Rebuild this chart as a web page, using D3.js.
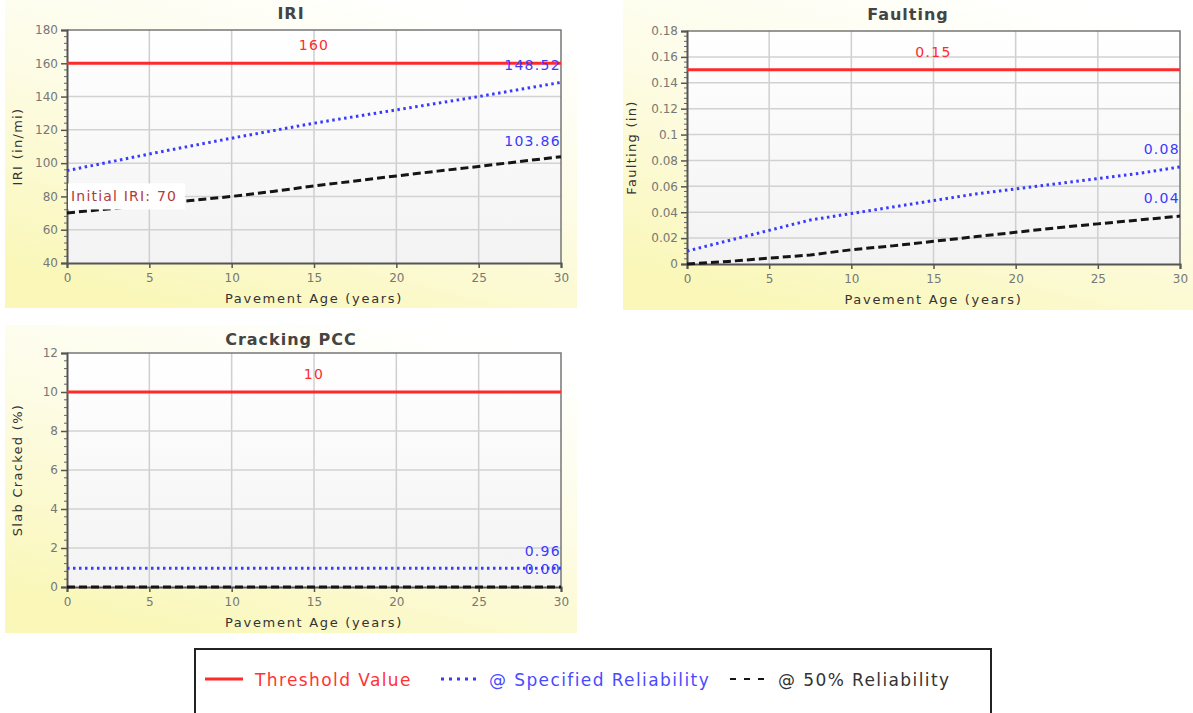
<!DOCTYPE html>
<html>
<head>
<meta charset="utf-8">
<script src="https://cdn.jsdelivr.net/npm/d3@7"></script>
<style>
  body { margin: 0; background: #fff; }
  svg { display: block; font-family: "DejaVu Sans", Verdana, sans-serif; }
</style>
</head>
<body>
<svg id="chart" width="1193" height="713"></svg>
<script>
// ---- data ----
const years = [0, 2.5, 5, 7.5, 10, 12.5, 15, 17.5, 20, 22.5, 25, 27.5, 30];
const xTicks = [0, 5, 10, 15, 20, 25, 30];

const iriThreshold = 160;
const iriSpecified = [95.5, 100.5, 105.5, 110.3, 115, 119.5, 124, 128, 132, 136, 140, 144.3, 148.52];
const iri50 = [70, 72.5, 75, 77.5, 80, 83, 86.3, 89.3, 92.3, 95.2, 98, 101, 103.86];
const iriTicks = [40, 60, 80, 100, 120, 140, 160, 180];
const iriEndLabels = ["148.52", "103.86"];

const faultThreshold = 0.15;
const faultSpecified = [0.010, 0.018, 0.026, 0.034, 0.039, 0.044, 0.049, 0.054, 0.058, 0.062, 0.066, 0.070, 0.075];
const fault50 = [0, 0.002, 0.0045, 0.007, 0.011, 0.014, 0.0175, 0.021, 0.0245, 0.028, 0.031, 0.034, 0.037];
const faultTicks = [0, 0.02, 0.04, 0.06, 0.08, 0.1, 0.12, 0.14, 0.16, 0.18];
const faultEndLabels = ["0.08", "0.04"];

const crackThreshold = 10;
const crackSpecified = [0.96, 0.96, 0.96, 0.96, 0.96, 0.96, 0.96, 0.96, 0.96, 0.96, 0.96, 0.96, 0.96];
const crack50 = [0, 0, 0, 0, 0, 0, 0, 0, 0, 0, 0, 0, 0];
const crackTicks = [0, 2, 4, 6, 8, 10, 12];
const crackEndLabels = ["0.96", "0.00"];

const legendItems = ["Threshold Value", "@ Specified Reliability", "@ 50% Reliability"];

// ---- styles ----
const RED = "#ff2a2a", BLUE = "#3a3aff", BLACK = "#151515";

let svg = d3.select("#chart");
let defs = svg.append("defs");

let panelGrad = defs.append("linearGradient").attr("id", "panelGrad")
  .attr("x1", "0.75").attr("y1", "0").attr("x2", "0.25").attr("y2", "1");
panelGrad.append("stop").attr("offset", "0%").attr("stop-color", "#ffffff");
panelGrad.append("stop").attr("offset", "45%").attr("stop-color", "#fdfce6");
panelGrad.append("stop").attr("offset", "100%").attr("stop-color", "#faf7b8");

let plotGrad = defs.append("linearGradient").attr("id", "plotGrad")
  .attr("x1", "0").attr("y1", "0").attr("x2", "0").attr("y2", "1");
plotGrad.append("stop").attr("offset", "0%").attr("stop-color", "#ffffff");
plotGrad.append("stop").attr("offset", "100%").attr("stop-color", "#f3f3f3");

function drawPanel(cfg) {
  let p = svg.append("g");

  p.append("rect")
    .attr("x", cfg.panel[0]).attr("y", cfg.panel[1])
    .attr("width", cfg.panel[2]).attr("height", cfg.panel[3])
    .attr("fill", "url(#panelGrad)");

  let [left, top, right, bottom] = cfg.plot;
  let x = d3.scaleLinear().domain([0, 30]).range([left, right]);
  let y = d3.scaleLinear().domain(cfg.yDomain).range([bottom, top]);

  p.append("rect")
    .attr("x", left).attr("y", top)
    .attr("width", right - left).attr("height", bottom - top)
    .attr("fill", "url(#plotGrad)");

  // grid
  p.append("g").selectAll("line.v").data(xTicks.slice(1, -1)).join("line")
    .attr("x1", d => x(d)).attr("x2", d => x(d))
    .attr("y1", top).attr("y2", bottom)
    .attr("stroke", "#cfcfcf").attr("stroke-width", 1.5);
  p.append("g").selectAll("line.h").data(cfg.yTicks.slice(1, -1)).join("line")
    .attr("x1", left).attr("x2", right)
    .attr("y1", d => y(d)).attr("y2", d => y(d))
    .attr("stroke", "#d2d2d2").attr("stroke-width", 1.5);

  // plot frame (top/right)
  p.append("path")
    .attr("d", `M${left},${top}H${right}V${bottom}`)
    .attr("fill", "none").attr("stroke", "#777").attr("stroke-width", 1.5);

  // minor y ticks
  let step = cfg.yTicks[1] - cfg.yTicks[0];
  let minor = [];
  cfg.yTicks.slice(0, -1).forEach(t => {
    for (let k = 1; k < 5; k++) minor.push(t + step * k / 5);
  });
  p.append("g").selectAll("line").data(minor).join("line")
    .attr("x1", left - 3).attr("x2", left)
    .attr("y1", d => y(d)).attr("y2", d => y(d))
    .attr("stroke", "#666").attr("stroke-width", 1);

  // axes
  let fmt = d3.format("~g");
  let ya = p.append("g").attr("transform", `translate(${left},0)`)
    .call(d3.axisLeft(y).tickValues(cfg.yTicks).tickSize(6).tickPadding(3).tickFormat(fmt));
  let xa = p.append("g").attr("transform", `translate(0,${bottom})`)
    .call(d3.axisBottom(x).tickValues(xTicks).tickSize(5).tickPadding(5));
  [ya, xa].forEach(a => {
    a.select(".domain").attr("stroke", "#555").attr("stroke-width", 2);
    a.selectAll(".tick line").attr("stroke", "#555").attr("stroke-width", 1.5);
    a.selectAll(".tick text").attr("fill", "#777").attr("font-size", 12)
      .attr("font-family", "DejaVu Sans, sans-serif");
  });

  // titles
  p.append("text")
    .attr("x", cfg.panel[0] + cfg.panel[2] / 2).attr("y", cfg.titleY)
    .attr("text-anchor", "middle").attr("font-size", 16).attr("font-weight", "bold")
    .attr("letter-spacing", 1).attr("fill", "#444").text(cfg.title);
  p.append("text")
    .attr("x", (left + right) / 2).attr("y", bottom + 40)
    .attr("text-anchor", "middle").attr("font-size", 13).attr("letter-spacing", 1.7)
    .attr("fill", "#333").text("Pavement Age (years)");
  p.append("text")
    .attr("transform", `translate(${cfg.yLabelX},${(top + bottom) / 2}) rotate(-90)`)
    .attr("text-anchor", "middle").attr("font-size", 13).attr("letter-spacing", 1.3)
    .attr("fill", "#333").text(cfg.yLabel);

  // series
  let line = d3.line().x((d, i) => x(years[i])).y(d => y(d));

  p.append("line")
    .attr("x1", x(0)).attr("x2", x(30))
    .attr("y1", y(cfg.threshold)).attr("y2", y(cfg.threshold))
    .attr("stroke", RED).attr("stroke-width", 3);

  p.append("path").datum(cfg.s50).attr("d", line)
    .attr("fill", "none").attr("stroke", BLACK).attr("stroke-width", 3)
    .attr("stroke-dasharray", "8,4");

  p.append("path").datum(cfg.spec).attr("d", line)
    .attr("fill", "none").attr("stroke", BLUE).attr("stroke-width", 3)
    .attr("stroke-dasharray", "2.5,3.5");

  // value labels
  p.append("text")
    .attr("x", (left + right) / 2).attr("y", y(cfg.threshold) - 13)
    .attr("text-anchor", "middle").attr("font-size", 14).attr("letter-spacing", 1.3)
    .attr("fill", RED).text(fmt(cfg.threshold));
  p.append("text")
    .attr("x", right).attr("y", y(cfg.spec[cfg.spec.length - 1]) - cfg.labelOffset[0])
    .attr("text-anchor", "end").attr("font-size", 14).attr("letter-spacing", 1.3)
    .attr("fill", BLUE).text(cfg.endLabels[0]);
  p.append("text")
    .attr("x", right).attr("y", y(cfg.s50[cfg.s50.length - 1]) - cfg.labelOffset[1])
    .attr("text-anchor", "end").attr("font-size", 14).attr("letter-spacing", 1.3)
    .attr("fill", BLUE).text(cfg.endLabels[1]);

  return { x: x, y: y, g: p };
}

// IRI
let iri = drawPanel({
  title: "IRI", titleY: 19, yLabel: "IRI (in/mi)", yLabelX: 22,
  panel: [5, 0, 572, 308], plot: [67, 30, 561, 263],
  yDomain: [40, 180], yTicks: iriTicks,
  threshold: iriThreshold, spec: iriSpecified, s50: iri50,
  endLabels: iriEndLabels, labelOffset: [12, 11]
});

// initial IRI note
let noteX = iri.x(0) + 1, noteY = iri.y(80);
iri.g.append("rect")
  .attr("x", noteX).attr("y", noteY - 13)
  .attr("width", 117).attr("height", 26)
  .attr("fill", "#fff");
iri.g.append("text")
  .attr("x", noteX + 3).attr("y", noteY + 5)
  .attr("font-size", 14).attr("letter-spacing", 1.2).attr("fill", "#b23a3a")
  .text("Initial IRI: " + iri50[0]);

// Faulting
drawPanel({
  title: "Faulting", titleY: 20, yLabel: "Faulting (in)", yLabelX: 636,
  panel: [623, 0, 570, 310], plot: [687, 31, 1180, 264],
  yDomain: [0, 0.18], yTicks: faultTicks,
  threshold: faultThreshold, spec: faultSpecified, s50: fault50,
  endLabels: faultEndLabels, labelOffset: [13, 13]
});

// Cracking PCC
drawPanel({
  title: "Cracking PCC", titleY: 345, yLabel: "Slab Cracked (%)", yLabelX: 22,
  panel: [5, 325, 572, 308], plot: [67, 353, 561, 587],
  yDomain: [0, 12], yTicks: crackTicks,
  threshold: crackThreshold, spec: crackSpecified, s50: crack50,
  endLabels: crackEndLabels, labelOffset: [12, 13]
});

// legend
let lg = svg.append("g");
lg.append("rect")
  .attr("x", 195).attr("y", 649).attr("width", 796).attr("height", 80)
  .attr("fill", "#fff").attr("stroke", "#222").attr("stroke-width", 2);

let legendSpec = [
  { x: 205, w: 38, color: RED, width: 3, dash: null, text: "#ff3333", tx: 255 },
  { x: 441, w: 36, color: BLUE, width: 3, dash: "3,5", text: "#4a4aff", tx: 489 },
  { x: 730, w: 36, color: BLACK, width: 2, dash: "6,8", text: "#333", tx: 778 }
];
legendSpec.forEach((d, i) => {
  lg.append("line")
    .attr("x1", d.x).attr("x2", d.x + d.w)
    .attr("y1", 679).attr("y2", 679)
    .attr("stroke", d.color).attr("stroke-width", d.width)
    .attr("stroke-dasharray", d.dash);
  lg.append("text")
    .attr("x", d.tx).attr("y", 686)
    .attr("font-size", 17).attr("letter-spacing", 1.4).attr("fill", d.text)
    .text(legendItems[i]);
});
</script>
</body>
</html>
